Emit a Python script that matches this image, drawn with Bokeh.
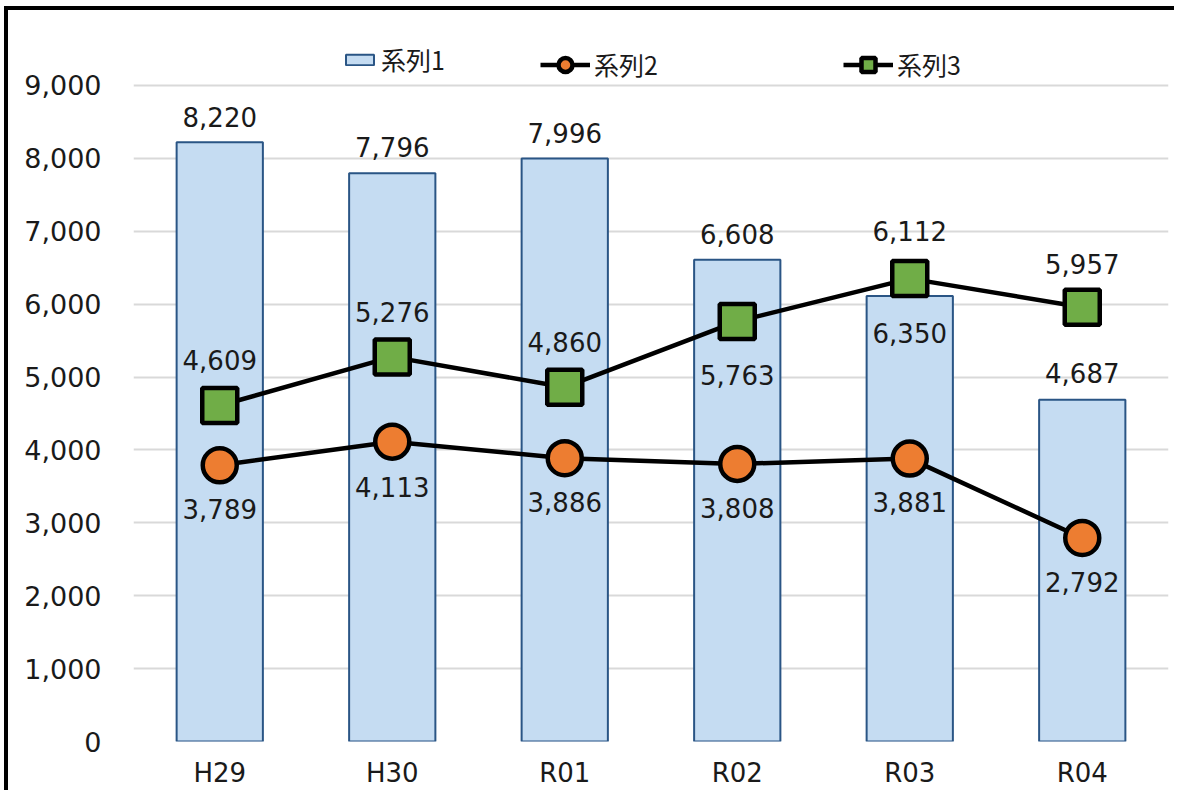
from bokeh.plotting import figure
from bokeh.models import (ColumnDataSource, FactorRange, Range1d, FixedTicker,
                          Legend, LegendItem, NumeralTickFormatter)
from bokeh.core.properties import value
from bokeh.embed import file_html
from bokeh.resources import INLINE

# ---- data ----
categories = ["H29", "H30", "R01", "R02", "R03", "R04"]
series1 = [8220, 7796, 7996, 6608, 6112, 4687]
series2 = [3789, 4113, 3886, 3808, 3881, 2792]
series3 = [4609, 5276, 4860, 5763, 6350, 5957]
y_ticks = [0, 1000, 2000, 3000, 4000, 5000, 6000, 7000, 8000, 9000]
series_names = ["系列1", "系列2", "系列3"]

# ---- label placement (style: screen offsets in px) ----
s1_dy = [-25, -26, -26, -26, -65, -27]
s2_dy = [44, 45, 44, 44, 43, 44]
s3_dy = [-46, -45, -45, 54, 54, -43]

NUM_FONT = "DejaVu Sans"
JP_FONT = "Noto Sans CJK JP"
TXT = "#1a1a1a"

p = figure(x_range=FactorRange(*categories, range_padding=0),
           y_range=Range1d(0, 9726),
           width=1170, height=784,
           output_backend="svg", toolbar_location=None,
           min_border_left=125, min_border_right=10,
           min_border_top=22, min_border_bottom=53)
p.styles = {"border-left": "4px solid black", "border-top": "4px solid black",
            "margin-left": "4px", "margin-top": "6px"}
p.outline_line_color = None
p.background_fill_color = "white"
p.border_fill_color = "white"

# axes
p.yaxis.ticker = FixedTicker(ticks=y_ticks)
p.yaxis.formatter = NumeralTickFormatter(format="0,0")
for ax in (p.xaxis[0], p.yaxis[0]):
    ax.axis_line_color = None
    ax.major_tick_line_color = None
    ax.minor_tick_line_color = None
    ax.major_label_text_font = NUM_FONT
    ax.major_label_text_color = TXT
p.yaxis.major_label_text_font_size = "27px"
p.xaxis.major_label_text_font_size = "26px"
p.yaxis.major_label_standoff = 26
p.xaxis.major_label_standoff = 10
p.xgrid.grid_line_color = None
p.ygrid.ticker = FixedTicker(ticks=y_ticks)
p.ygrid.grid_line_color = "#D9D9D9"
p.ygrid.grid_line_width = 2

src = ColumnDataSource(dict(
    x=categories, s1=series1, s2=series2, s3=series3,
    l1=[f"{v:,}" for v in series1],
    l2=[f"{v:,}" for v in series2],
    l3=[f"{v:,}" for v in series3],
    d1=s1_dy, d2=s2_dy, d3=s3_dy,
))

bars = p.vbar(x="x", top="s1", width=0.5, source=src,
              fill_color="#C5DCF2", line_color="#2A5585", line_width=2)

line2 = p.line(x="x", y="s2", source=src, line_color="black", line_width=4.5)
mark2 = p.scatter(x="x", y="s2", source=src, marker="circle", size=34,
                  fill_color="#ED7D31", line_color="black", line_width=4.5)

line3 = p.line(x="x", y="s3", source=src, line_color="black", line_width=4.5)
mark3 = p.scatter(x="x", y="s3", source=src, marker="square", size=35,
                  fill_color="#70AD47", line_color="black", line_width=4.5)

for col, yname, dcol in (("l1", "s1", "d1"), ("l2", "s2", "d2"), ("l3", "s3", "d3")):
    p.text(x="x", y=yname, text=col, y_offset=dcol, source=src,
           text_font=value(NUM_FONT), text_font_size="26px",
           text_color=TXT, text_align="center", text_baseline="middle")

def mk_legend(item, loc, gw, gh):
    lg = Legend(items=[item], location=loc, orientation="horizontal",
                glyph_width=gw, glyph_height=gh, label_height=gh,
                label_standoff=4, padding=0, margin=0, spacing=0,
                border_line_color=None, background_fill_alpha=0,
                label_text_font=JP_FONT, label_text_font_size="25px",
                label_text_color=TXT)
    p.add_layout(lg, "center")
    return lg

mk_legend(LegendItem(label=series_names[0], renderers=[bars]), (209, 664), 35, 13)
mk_legend(LegendItem(label=series_names[1], renderers=[line2, mark2]), (407, 659), 50, 35)
mk_legend(LegendItem(label=series_names[2], renderers=[line3, mark3]), (710, 659), 50, 35)

open("out.html", "w").write(file_html(p, INLINE))
